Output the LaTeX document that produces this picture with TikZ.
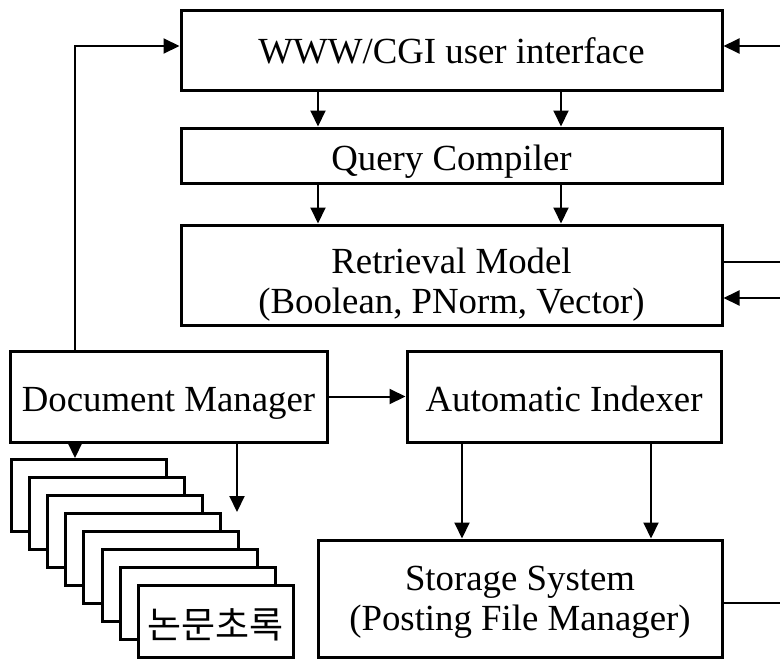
\documentclass[tikz,border=0pt]{standalone}
\usepackage{fontspec}
\setmainfont{Liberation Serif}
\newfontfamily\krfont{Noto Sans CJK KR}
\usetikzlibrary{arrows.meta}

% two-line label whose first baseline sits #1 below the node centre
\newcommand{\twolines}[3]{\raisebox{#1}[0pt][0pt]{\begin{tabular}[t]{@{}c@{}}#2\\#3\end{tabular}}}

\tikzset{
  box/.style={draw, line width=1.5pt, fill=white, inner sep=0pt, align=center,
              font=\fontsize{18.4}{20}\selectfont, text height=16pt, text depth=1.5pt},
  page/.style={draw, line width=1.5pt, fill=white, inner sep=0pt,
               minimum width=77.5pt, minimum height=36pt},
  link/.style={line width=1pt},
  arr/.style={link, -{Triangle[length=8pt,width=7.5pt]}}
}

\begin{document}
\begin{tikzpicture}[x=0.5pt,y=-0.5pt]
  \useasboundingbox (0,0) rectangle (780,659);

  % main modules
  \node[box, minimum width=270.5pt, minimum height=40pt, text depth=3pt] (ui) at (451.5,50) {WWW/CGI user interface};
  \node[box, minimum width=270.5pt, minimum height=27.5pt] (qc) at (451.5,155.5) {Query Compiler};
  \node[box, minimum width=270.5pt, minimum height=50pt, text height=0pt, text depth=0pt] (rm) at (451.5,275)
       {\twolines{0.8pt}{Retrieval Model}{(Boolean, PNorm, Vector)}};
  \node[box, minimum width=158.5pt, minimum height=45.5pt] (dm) at (168.5,396.5) {Document Manager};
  \node[box, minimum width=157pt,   minimum height=45.5pt] (ai) at (564,396.5)   {Automatic Indexer};
  \node[box, minimum width=202pt,   minimum height=58.5pt, text height=0pt, text depth=0pt] (ss) at (520,598.5)
       {\twolines{4.25pt}{Storage System}{(Posting File Manager)}};

  % stack of abstract pages
  \foreach \i in {0,...,6}{
    \node[page, anchor=north west] (pg\i) at ({10+18.1*\i},{458+18*\i}) {};
  }
  \node[page, anchor=north west, font=\krfont\fontsize{18.5}{20}\selectfont,
        text height=18pt, text depth=1.2pt] (pg7) at (136.7,584) {논문초록};

  % helper columns and free ends
  \coordinate (colA) at (318,0);
  \coordinate (colB) at (561,0);
  \coordinate (colC) at (462,0);
  \coordinate (colD) at (651,0);
  \coordinate (colE) at (75,0);
  \coordinate (colF) at (237,0);
  \coordinate (edge) at (780,0);
  \coordinate (uiin)  at ([yshift=2pt]ui.east);
  \coordinate (uil)   at ([yshift=2pt]ui.west);
  \coordinate (rmout) at ([yshift=6.5pt]rm.east);
  \coordinate (rmin)  at ([yshift=-11.5pt]rm.east);
  \coordinate (ssout) at ([yshift=-2.25pt]ss.east);
  \coordinate (stackend) at (237,512);

  % interface -> compiler -> model
  \draw[arr] (ui.south -| colA) -- (qc.north -| colA);
  \draw[arr] (ui.south -| colB) -- (qc.north -| colB);
  \draw[arr] (qc.south -| colA) -- (rm.north -| colA);
  \draw[arr] (qc.south -| colB) -- (rm.north -| colB);

  % document manager links
  \draw[arr] (dm.north -| colE) |- (uil);
  \draw[arr] (dm.east) -- (ai.west |- dm.east);
  \draw[arr] (dm.south -| colE) -- (pg0.north -| colE);
  \draw[arr] (dm.south -| colF) -- (stackend);

  % indexer -> storage
  \draw[arr] (ai.south -| colC) -- (ss.north -| colC);
  \draw[arr] (ai.south -| colD) -- (ss.north -| colD);

  % lines leaving on the right
  \draw[arr]  (edge |- uiin) -- (uiin);
  \draw[link] (rmout) -- (edge |- rmout);
  \draw[arr]  (edge |- rmin) -- (rmin);
  \draw[link] (ssout) -- (edge |- ssout);
\end{tikzpicture}
\end{document}
